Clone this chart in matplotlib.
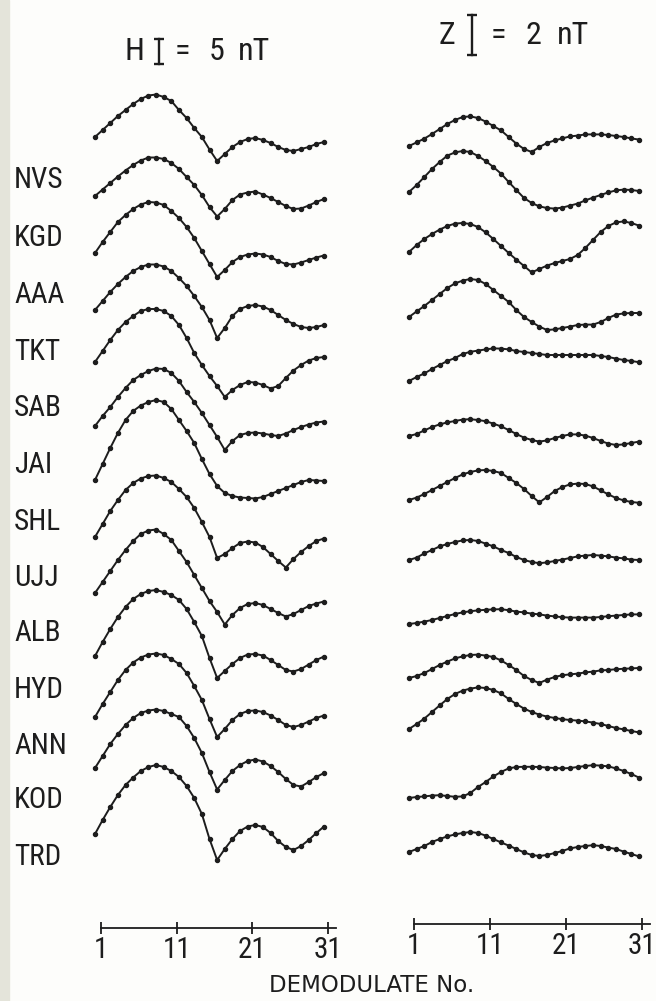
import numpy as np
import matplotlib
matplotlib.use("Agg")
import matplotlib.pyplot as plt
from matplotlib import font_manager
from matplotlib.patches import Rectangle

# ---------------- data (nT, relative to demodulate 1) ----------------
stations = ["NVS", "KGD", "AAA", "TKT", "SAB", "JAI", "SHL",
            "UJJ", "ALB", "HYD", "ANN", "KOD", "TRD"]
demod = np.arange(1, 32)
ticks = [1, 11, 21, 31]

h_nvs = [0, 1.4, 2.8, 4.2, 5.4, 6.6, 7.6, 8.3, 8.5, 8.0, 7.2, 5.4, 3.8, 1.8, 0, -2.5, -4.8, -3.4, -2.0, -1.0, -0.4, -0.2, -0.6, -1.2, -2.0, -2.6, -2.8, -2.4, -2.0, -1.4, -1.0]
h_kgd = [0, 1.3, 2.6, 3.9, 5.1, 6.2, 7.1, 7.7, 7.7, 7.4, 6.6, 5.4, 3.8, 2.2, 0.2, -2.2, -4.1, -2.6, -0.8, 0.3, 0.7, 0.9, 0.3, -0.4, -1.2, -2.0, -2.6, -2.5, -1.9, -1.2, -0.6]
h_aaa = [0, 2.2, 4.2, 6.2, 7.6, 8.8, 9.7, 10.2, 10.1, 9.6, 8.4, 7.0, 5.2, 3.0, 0.4, -2.2, -4.8, -3.4, -1.8, -0.8, -0.3, -0.1, -0.3, -0.8, -1.6, -2.2, -2.3, -1.9, -1.4, -0.9, -0.5]
h_tkt = [0, 1.8, 3.6, 5.2, 6.6, 7.8, 8.6, 9.1, 9.1, 8.7, 7.8, 6.4, 4.8, 2.8, 0.6, -2.0, -5.6, -3.6, -1.2, 0.2, 0.8, 1.0, 0.7, 0, -1.0, -2.0, -2.8, -3.4, -3.6, -3.4, -3.0]
h_sab = [0, 2.2, 4.4, 6.4, 8.0, 9.2, 10.2, 10.6, 10.6, 10.2, 9.2, 7.4, 4.8, 1.8, -0.6, -2.8, -4.8, -7.0, -5.6, -4.6, -4.0, -4.1, -4.6, -5.3, -4.8, -3.2, -1.7, -0.6, 0.3, 0.8, 1.0]
h_jai = [0, 2.0, 3.8, 5.8, 7.6, 9.2, 10.2, 11.0, 11.5, 11.4, 10.6, 9.0, 6.8, 4.8, 2.6, 0.2, -2.2, -4.8, -3.0, -1.8, -1.4, -1.3, -1.5, -1.8, -2.0, -1.5, -0.8, -0.2, 0.3, 0.7, 0.9]
h_shl = [0, 3.2, 6.4, 9.4, 12.0, 13.8, 14.9, 15.6, 16.0, 15.6, 14.2, 12.0, 9.8, 7.4, 4.2, 1.2, -1.2, -2.6, -3.2, -3.5, -3.6, -3.7, -3.4, -2.8, -2.2, -1.6, -1.0, -0.4, 0, -0.1, -0.2]
h_ujj = [0, 2.6, 5.2, 7.4, 9.4, 10.8, 11.7, 12.2, 12.3, 11.8, 11.0, 9.6, 8.0, 5.8, 3.0, 0, -4.2, -3.4, -2.2, -1.2, -0.9, -1.1, -2.0, -3.4, -4.8, -6.1, -4.4, -3.0, -1.8, -0.8, -0.3]
h_alb = [0, 2.2, 4.4, 6.6, 8.6, 10.4, 11.8, 12.5, 12.7, 11.8, 10.6, 8.4, 6.2, 3.6, 1.0, -1.6, -3.8, -6.3, -4.4, -3.0, -2.2, -2.0, -2.4, -3.2, -4.0, -4.7, -4.2, -3.4, -2.6, -2.1, -1.7]
h_hyd = [0, 2.8, 5.4, 7.8, 9.8, 11.4, 12.4, 13.0, 13.2, 12.8, 12.2, 11.2, 9.4, 6.8, 4.0, -0.4, -4.4, -3.0, -1.6, -0.4, 0.3, 0.4, 0.1, -0.8, -1.8, -2.8, -3.1, -2.6, -1.7, -0.8, -0.1]
h_ann = [0, 2.6, 5.0, 7.4, 9.4, 10.9, 11.9, 12.5, 12.7, 12.4, 11.6, 10.6, 8.8, 6.2, 3.4, -0.4, -4.0, -2.4, -0.6, 0.6, 1.2, 1.3, 1.0, 0.3, -0.6, -1.6, -2.0, -1.6, -0.9, -0.2, 0.3]
h_kod = [0, 2.4, 4.8, 6.8, 8.6, 10.0, 11.0, 11.5, 11.7, 11.4, 10.8, 10.2, 8.4, 6.0, 3.0, -0.8, -4.3, -2.4, -0.6, 0.6, 1.4, 1.7, 1.3, 0.4, -0.8, -2.2, -3.4, -3.7, -2.8, -1.8, -1.0]
h_trd = [0, 2.8, 5.4, 7.8, 9.8, 11.3, 12.6, 13.4, 13.8, 13.4, 12.6, 11.4, 9.6, 7.2, 4.0, -1.0, -5.2, -3.0, -1.0, 0.6, 1.5, 1.8, 1.4, 0.2, -1.4, -2.6, -3.2, -2.4, -1.2, 0.2, 1.5]

z_nvs = [0, 0.18, 0.37, 0.6, 0.85, 1.1, 1.3, 1.45, 1.48, 1.4, 1.22, 1.0, 0.78, 0.45, 0.12, -0.15, -0.3, -0.05, 0.15, 0.28, 0.38, 0.48, 0.52, 0.58, 0.58, 0.58, 0.55, 0.5, 0.45, 0.38, 0.32]
z_kgd = [0, 0.35, 0.75, 1.15, 1.5, 1.82, 1.98, 2.05, 2.0, 1.8, 1.55, 1.25, 0.92, 0.5, 0.1, -0.3, -0.55, -0.72, -0.8, -0.83, -0.78, -0.68, -0.58, -0.42, -0.28, -0.15, -0.02, 0.08, 0.12, 0.1, 0.05]
z_aaa = [0, 0.35, 0.65, 0.9, 1.12, 1.3, 1.42, 1.45, 1.4, 1.25, 0.98, 0.65, 0.3, -0.05, -0.38, -0.7, -1.02, -0.85, -0.68, -0.55, -0.45, -0.35, -0.15, 0.2, 0.6, 1.0, 1.3, 1.48, 1.53, 1.45, 1.32]
z_tkt = [0, 0.28, 0.55, 0.85, 1.15, 1.45, 1.68, 1.82, 1.9, 1.85, 1.65, 1.35, 1.05, 0.75, 0.35, 0, -0.25, -0.48, -0.65, -0.62, -0.55, -0.48, -0.4, -0.38, -0.38, -0.25, -0.05, 0.12, 0.18, 0.2, 0.2]
z_sab = [0, 0.2, 0.38, 0.6, 0.8, 1.0, 1.15, 1.35, 1.46, 1.52, 1.58, 1.63, 1.62, 1.58, 1.5, 1.45, 1.4, 1.35, 1.3, 1.3, 1.3, 1.3, 1.3, 1.3, 1.3, 1.25, 1.2, 1.12, 1.05, 1.0, 0.94]
z_jai = [0, 0.1, 0.28, 0.45, 0.58, 0.68, 0.75, 0.82, 0.84, 0.8, 0.74, 0.62, 0.48, 0.3, 0.1, -0.08, -0.2, -0.28, -0.22, -0.1, 0, 0.08, 0.08, 0.02, -0.1, -0.25, -0.38, -0.45, -0.42, -0.35, -0.28]
z_shl = [0, 0.12, 0.3, 0.5, 0.7, 0.9, 1.1, 1.28, 1.4, 1.48, 1.5, 1.45, 1.35, 1.1, 0.85, 0.55, 0.2, -0.12, 0.15, 0.45, 0.65, 0.78, 0.82, 0.8, 0.68, 0.48, 0.28, 0.1, -0.02, -0.1, -0.14]
z_ujj = [0, 0.12, 0.33, 0.5, 0.68, 0.8, 0.9, 0.98, 1.0, 0.95, 0.82, 0.68, 0.5, 0.35, 0.15, 0, -0.1, -0.16, -0.12, -0.05, 0.02, 0.1, 0.18, 0.22, 0.25, 0.22, 0.18, 0.12, 0.08, 0.02, 0]
z_alb = [0, 0.05, 0.12, 0.2, 0.3, 0.4, 0.5, 0.58, 0.64, 0.68, 0.71, 0.73, 0.74, 0.69, 0.62, 0.58, 0.52, 0.48, 0.42, 0.38, 0.34, 0.32, 0.32, 0.32, 0.32, 0.35, 0.39, 0.42, 0.45, 0.48, 0.48]
z_hyd = [0, 0.1, 0.25, 0.45, 0.65, 0.82, 0.98, 1.08, 1.15, 1.17, 1.12, 1.05, 0.88, 0.65, 0.4, 0.1, -0.1, -0.25, -0.08, 0.05, 0.14, 0.18, 0.22, 0.28, 0.32, 0.38, 0.4, 0.44, 0.46, 0.48, 0.5]
z_ann = [0, 0.25, 0.52, 0.85, 1.18, 1.5, 1.75, 1.92, 2.02, 2.08, 2.05, 1.95, 1.78, 1.5, 1.25, 1.02, 0.85, 0.72, 0.62, 0.55, 0.49, 0.45, 0.42, 0.38, 0.32, 0.25, 0.15, 0.05, -0.02, -0.1, -0.17]
z_kod = [0, 0.05, 0.08, 0.12, 0.14, 0.1, 0.06, 0.08, 0.25, 0.55, 0.8, 1.08, 1.3, 1.48, 1.55, 1.56, 1.56, 1.55, 1.52, 1.5, 1.48, 1.5, 1.55, 1.6, 1.64, 1.62, 1.58, 1.48, 1.35, 1.2, 1.02]
z_trd = [0, 0.15, 0.3, 0.5, 0.65, 0.78, 0.88, 0.95, 1.0, 0.95, 0.82, 0.65, 0.48, 0.32, 0.15, -0.02, -0.15, -0.2, -0.15, -0.05, 0.05, 0.18, 0.25, 0.3, 0.34, 0.3, 0.22, 0.15, 0.02, -0.1, -0.22]

h_data = [h_nvs, h_kgd, h_aaa, h_tkt, h_sab, h_jai, h_shl,
          h_ujj, h_alb, h_hyd, h_ann, h_kod, h_trd]
z_data = [z_nvs, z_kgd, z_aaa, z_tkt, z_sab, z_jai, z_shl,
          z_ujj, z_alb, z_hyd, z_ann, z_kod, z_trd]

# ---------------- layout (pixels on the 656 x 1001 page) ----------------
W, HT = 656, 1001
h_row = [137, 196, 253, 310, 362, 426, 480, 537, 593, 656, 717, 768, 834]
z_row = [146, 192, 252, 317, 381, 436, 500, 560, 624, 678, 729, 798, 852]
label_row = [180, 238, 295, 352, 408, 465, 522, 578, 633, 690, 746, 800, 857]
H_PX = 5.0    # pixels per nT, H column
Z_PX = 20.0   # pixels per nT, Z column
INK = "#1d1d1d"


# a narrow sans face if one is installed, DejaVu Sans otherwise
def narrow_font():
    narrow = ("condensed", "semi-condensed", "extra-condensed", "ultra-condensed")
    best = None
    for f in font_manager.fontManager.ttflist:
        if "CJK" in f.name or f.style != "normal":
            continue
        if str(f.weight) not in ("400", "normal", "regular", "book"):
            continue
        if str(f.stretch) in narrow or "Narrow" in f.name or "Condensed" in f.name:
            rank = 0 if "Liberation" in f.name else 1 if "Roboto" in f.name else 2
            if best is None or rank < best[0]:
                best = (rank, f.fname)
    if best is None:
        return font_manager.FontProperties(family="DejaVu Sans"), False
    return font_manager.FontProperties(fname=best[1]), True


FONT, IS_NARROW = narrow_font()
LAB_SIZE = 21 if IS_NARROW else 17
TITLE_SIZE = 23 if IS_NARROW else 18

fig = plt.figure(figsize=(W / 100, HT / 100), dpi=100)
fig.patch.set_facecolor("#fdfdfb")
# binding shadow on the left edge of the scan
fig.patches.append(Rectangle((0, 0), 9 / W, 1, transform=fig.transFigure,
                             color="#e4e4da", zorder=0))


def column(x1, x31, ppn):
    ax = fig.add_axes([x1 / W, 0, (x31 - x1) / W, 1])
    ax.set_xlim(1, 31)
    ax.set_ylim(-HT / ppn, 0)
    ax.axis("off")
    return ax


def xdata(px, x1, x31):
    return 1 + (px - x1) * 30 / (x31 - x1)


ax_h = column(95, 324, H_PX)
ax_z = column(409, 639, Z_PX)

for vals, row in zip(h_data, h_row):
    ax_h.plot(demod, np.array(vals) - row / H_PX, "-o", color=INK, lw=1.4,
              ms=2.9, clip_on=False)
for vals, row in zip(z_data, z_row):
    ax_z.plot(demod, np.array(vals) - row / Z_PX, "-o", color=INK, lw=1.4,
              ms=2.9, clip_on=False)

for name, row in zip(stations, label_row):
    fig.text(14 / W, 1 - row / HT, name, fontproperties=FONT,
             fontsize=LAB_SIZE, color=INK, ha="left", va="center")


# scale bars in the headings
def scale_bar(ax, px, top_px, amount, ppn, x1, x31):
    xb = xdata(px, x1, x31)
    y0 = -top_px / ppn
    ax.plot([xb, xb], [y0, y0 - amount], color=INK, lw=1.7, clip_on=False)
    ax.plot([xb, xb], [y0, y0 - amount], "_", color=INK, ms=7, mew=1.7,
            clip_on=False)


def heading(parts, y_px):
    for text, x_px in parts:
        fig.text(x_px / W, 1 - y_px / HT, text, fontproperties=FONT,
                 fontsize=TITLE_SIZE, color=INK, ha="center", va="center")


scale_bar(ax_h, 159, 39, 5, H_PX, 95, 324)
scale_bar(ax_z, 472, 15, 2, Z_PX, 409, 639)
heading([("H", 134), ("=", 182), ("5", 217), ("nT", 254)], 51)
heading([("Z", 447), ("=", 498), ("2", 533), ("nT", 573)], 36)


# demodulate number scales at the bottom
def number_axis(x1, x31, y_px):
    xmax = 32.1
    xend = x1 + (x31 - x1) * (xmax - 1) / 30
    ax = fig.add_axes([x1 / W, 1 - y_px / HT, (xend - x1) / W, 0.0001])
    ax.set_xlim(1, xmax)
    ax.set_facecolor("none")
    for s in ["top", "left", "right"]:
        ax.spines[s].set_visible(False)
    ax.spines["bottom"].set_color(INK)
    ax.spines["bottom"].set_linewidth(1.3)
    ax.set_yticks([])
    ax.set_xticks(ticks)
    ax.set_xticklabels([str(t) for t in ticks])
    for lab in ax.get_xticklabels():
        lab.set_fontproperties(FONT)
        lab.set_fontsize(LAB_SIZE)
        lab.set_color(INK)
    ax.tick_params(axis="x", direction="inout", length=8, width=1.3,
                   color=INK, pad=2)
    return ax


number_axis(101, 328, 928)
number_axis(414, 642, 924)

fig.text(372 / W, 1 - 985 / HT, "DEMODULATE No.", family="DejaVu Sans",
         fontsize=16.5, color=INK, ha="center", va="center")

fig.savefig("out.png", dpi=100, facecolor=fig.get_facecolor())
